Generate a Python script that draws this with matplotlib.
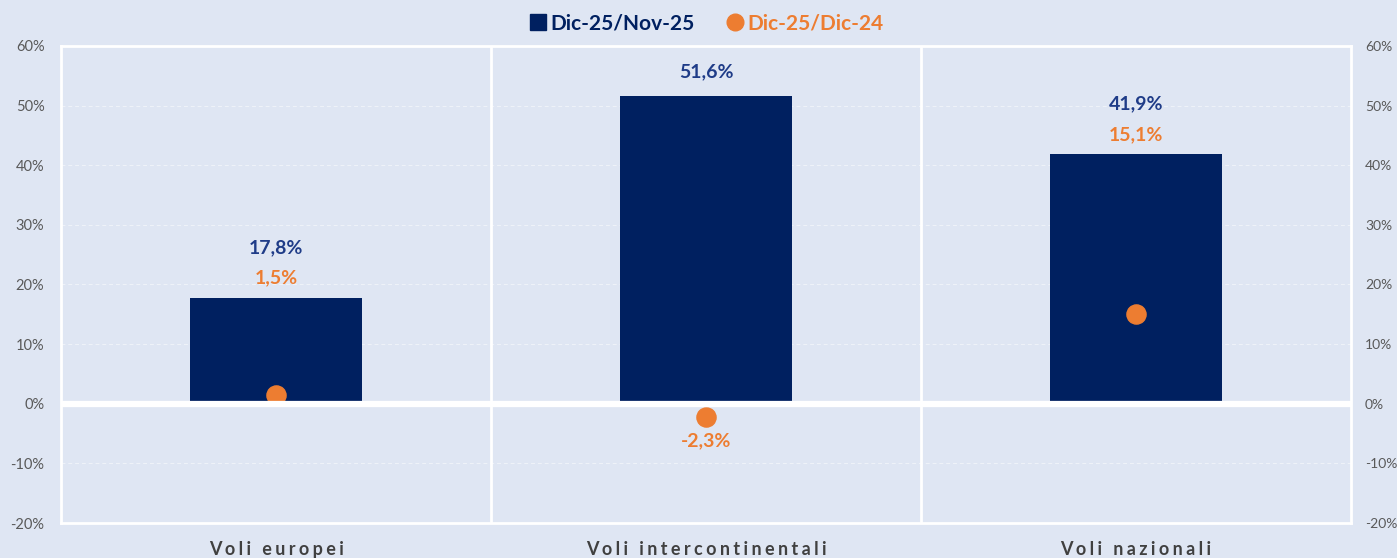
import matplotlib.pyplot as plt
from matplotlib.lines import Line2D
from matplotlib.ticker import FuncFormatter, MultipleLocator

BG = "#DFE6F3"
BAR_COLOR = "#002060"
BAR_LABEL = "#1F3C88"
DOT_COLOR = "#ED7D31"
TICK_COLOR = "#595959"

categories = ["Voli europei", "Voli intercontinentali", "Voli nazionali"]
monthly = [17.8, 51.6, 41.9]      # Dic-25/Nov-25
yearly = [1.5, -2.3, 15.1]        # Dic-25/Dic-24
series_names = ["Dic-25/Nov-25", "Dic-25/Dic-24"]


def pct(v, _=None):
    return f"{v:.0f}%"


def it_pct(v):
    return f"{v:.1f}%".replace(".", ",")


def spaced(text):
    return "\u2009\u200a".join(text)


plt.rcParams["font.family"] = ["Lato", "DejaVu Sans"]

fig = plt.figure(figsize=(13.97, 5.58), dpi=100, facecolor=BG)
ax = fig.add_axes([0.0437, 0.0627, 0.9234, 0.855], facecolor=BG)

x = list(range(len(categories)))
ax.bar(x, monthly, width=0.4, color=BAR_COLOR, zorder=3)
ax.scatter(x, yearly, s=190, color=DOT_COLOR, zorder=4)

ax.set_xlim(-0.5, len(categories) - 0.5)
ax.set_ylim(-20, 60)
ax.yaxis.set_major_locator(MultipleLocator(10))
ax.yaxis.set_major_formatter(FuncFormatter(pct))
ax.tick_params(axis="y", length=0, colors=TICK_COLOR, labelsize=10.5, pad=12)
ax.set_xticks([])

ax.grid(axis="y", color="white", linestyle=(0, (4, 3)), linewidth=0.7, alpha=0.5, zorder=1)
for sep in [i + 0.5 for i in x[:-1]]:
    ax.axvline(sep, color="white", linewidth=2, zorder=2)
ax.axhline(0, color="white", linewidth=4.5, zorder=5)
for side in ax.spines.values():
    side.set_color("white")
    side.set_linewidth(2)

ax2 = ax.twinx()
ax2.set_ylim(ax.get_ylim())
ax2.yaxis.set_major_locator(MultipleLocator(10))
ax2.yaxis.set_major_formatter(FuncFormatter(pct))
ax2.tick_params(axis="y", length=0, colors=TICK_COLOR, labelsize=10, pad=10)
for side in ax2.spines.values():
    side.set_visible(False)

# labels: dot label above the bar, bar label above that (Excel-style manual placing)
lbl = dict(ha="center", fontsize=14, fontweight="bold", zorder=6)
for xi, m, y in zip(x, monthly, yearly):
    if y >= 0:
        ax.annotate(it_pct(y), (xi, m), xytext=(0, 8), textcoords="offset points",
                    va="bottom", color=DOT_COLOR, **lbl)
        ax.annotate(it_pct(m), (xi, m), xytext=(0, 30), textcoords="offset points",
                    va="bottom", color=BAR_LABEL, **lbl)
    else:
        ax.annotate(it_pct(m), (xi, m), xytext=(0, 11), textcoords="offset points",
                    va="bottom", color=BAR_LABEL, **lbl)
        ax.annotate(it_pct(y), (xi, y), xytext=(0, -11), textcoords="offset points",
                    va="top", color=DOT_COLOR, **lbl)

for xi, name in zip(x, categories):
    ax.annotate(spaced(name), (xi, -20), xytext=(0, -13), textcoords="offset points",
                ha="center", va="top", color="#404040", fontsize=13,
                fontweight="bold", annotation_clip=False)

handles = [
    Line2D([], [], marker="s", linestyle="none", markersize=12, color=BAR_COLOR),
    Line2D([], [], marker="o", linestyle="none", markersize=12, color=DOT_COLOR),
]
leg = fig.legend(handles, series_names, loc="upper center", bbox_to_anchor=(0.505, 1.01),
                 ncol=2, frameon=False, handletextpad=0.1, columnspacing=1.4,
                 prop={"size": 15, "weight": "bold"}, handlelength=1.0)
for text, col in zip(leg.get_texts(), [BAR_COLOR, DOT_COLOR]):
    text.set_color(col)

fig.savefig("out.png", dpi=100, facecolor=BG)
